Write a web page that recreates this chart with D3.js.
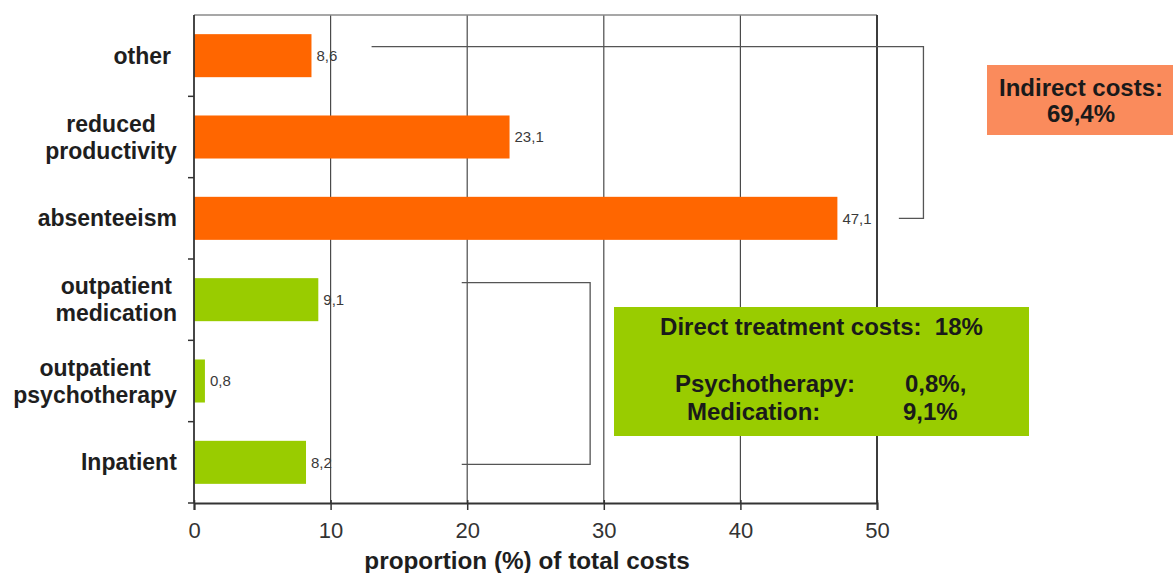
<!DOCTYPE html>
<html>
<head>
<meta charset="utf-8">
<script src="https://cdn.jsdelivr.net/npm/d3@7"></script>
<style>
  html, body { margin: 0; padding: 0; background: #fff; }
  svg { display: block; font-family: "Liberation Sans", Arial, sans-serif; }
</style>
</head>
<body>
<svg id="chart" width="1173" height="573"></svg>
<script>
// ---- data ----
const categories = ["other", "reduced productivity", "absenteeism", "outpatient medication", "outpatient psychotherapy", "Inpatient"];
const values = [8.6, 23.1, 47.1, 9.1, 0.8, 8.2];
const valueLabels = ["8,6", "23,1", "47,1", "9,1", "0,8", "8,2"];
const groups = ["indirect", "indirect", "indirect", "direct", "direct", "direct"];
const xTicks = [0, 10, 20, 30, 40, 50];
const axisTitle = "proportion (%) of total costs";
const indirectLines = ["Indirect costs:", "69,4%"];
const directTitle = "Direct treatment costs:  18%";
const directRows = [["Psychotherapy:", "0,8%,"], ["Medication:", "9,1%"]];

const colors = { indirect: "#FF6600", direct: "#99CC00" };

const svg = d3.select("#chart");
const margin = { left: 194, right: 877, top: 15, bottom: 503 };

const x = d3.scaleLinear().domain([0, 50]).range([margin.left, margin.right]);
const y = d3.scaleBand().domain(categories).range([margin.top, margin.bottom])
  .paddingInner(0.471).paddingOuter(0.2355);

// grid lines (vertical)
svg.append("g").selectAll("line").data(xTicks.filter(t => t > 0))
  .join("line")
  .attr("x1", d => x(d)).attr("x2", d => x(d))
  .attr("y1", margin.top).attr("y2", margin.bottom)
  .attr("stroke", "#4a4a4a").attr("stroke-width", 1.2);

// top border
svg.append("line")
  .attr("x1", x(0)).attr("x2", x(50)).attr("y1", margin.top).attr("y2", margin.top)
  .attr("stroke", "#8a8a8a").attr("stroke-width", 1.5);

// bars
const rows = categories.map((c, i) => ({ c, v: values[i], lab: valueLabels[i], g: groups[i] }));
svg.append("g").selectAll("rect").data(rows).join("rect")
  .attr("x", x(0)).attr("y", d => y(d.c))
  .attr("width", d => x(d.v) - x(0)).attr("height", y.bandwidth())
  .attr("fill", d => colors[d.g]);

// value labels
svg.append("g").selectAll("text").data(rows).join("text")
  .attr("x", d => x(d.v) + 5).attr("y", d => y(d.c) + y.bandwidth() / 2)
  .attr("dy", "0.35em")
  .attr("font-size", 15).attr("fill", "#3a3a3a")
  .text(d => d.lab);

// x axis
const xAxis = svg.append("g").attr("transform", `translate(0,${margin.bottom})`)
  .call(d3.axisBottom(x).tickValues(xTicks).tickSize(7).tickPadding(12).tickFormat(d3.format("d")));
xAxis.select(".domain").attr("stroke", "#333").attr("stroke-width", 2);
xAxis.selectAll(".tick line").attr("stroke", "#333").attr("stroke-width", 1.5).attr("y1", -3);
xAxis.selectAll(".tick text").attr("font-size", 22).attr("fill", "#333")
  .attr("font-family", "Liberation Sans, Arial, sans-serif");

// y axis (ticks at band boundaries)
const boundaries = categories.map(c => y(c) - y.step() * y.paddingInner() / 2).slice(1)
  .concat([margin.bottom]);
svg.append("line")
  .attr("x1", x(0)).attr("x2", x(0)).attr("y1", margin.top).attr("y2", margin.bottom)
  .attr("stroke", "#333").attr("stroke-width", 1.8);
svg.append("g").selectAll("line").data(boundaries).join("line")
  .attr("x1", x(0) - 6).attr("x2", x(0)).attr("y1", d => d).attr("y2", d => d)
  .attr("stroke", "#333").attr("stroke-width", 1.5);

// right border
svg.append("line")
  .attr("x1", x(50)).attr("x2", x(50)).attr("y1", margin.top).attr("y2", margin.bottom)
  .attr("stroke", "#333").attr("stroke-width", 1.8);

// category labels (multi-line, centered block, right edge near axis)
const labFs = 23, labLh = 27, labRight = x(0) - 17;
categories.forEach(c => {
  const lines = (c === "other" || c === "absenteeism" || c === "Inpatient") ? [c] : c.split(" ");
  const cy = y(c) + y.bandwidth() / 2;
  const t = svg.append("text").attr("font-size", labFs).attr("font-weight", "bold")
    .attr("fill", "#1e1e1e").attr("text-anchor", "middle");
  lines.forEach((l, i) => {
    t.append("tspan").attr("x", 0)
      .attr("y", cy + (i - (lines.length - 1) / 2) * labLh + 0.35 * labFs).text(l);
  });
  const w = t.node().getBBox().width;
  const right = c === "other" ? labRight - 6 : labRight;
  t.selectAll("tspan").attr("x", right - w / 2);
});

// axis title
svg.append("text")
  .attr("x", 527).attr("y", 569)
  .attr("text-anchor", "middle").attr("font-size", 24.3).attr("font-weight", "bold")
  .attr("fill", "#1e1e1e").text(axisTitle);

// brackets
const yc = c => y(c) + y.bandwidth() / 2;
svg.append("path")
  .attr("d", `M${x(13)},${yc("other") - 9}H${x(53.4)}V${yc("absenteeism")}H${x(51.6)}`)
  .attr("fill", "none").attr("stroke", "#555").attr("stroke-width", 1.3);
svg.append("path")
  .attr("d", `M${x(19.6)},${yc("outpatient medication") - 17}H${x(29.0)}V${yc("Inpatient") + 2}H${x(19.6)}`)
  .attr("fill", "none").attr("stroke", "#555").attr("stroke-width", 1.3);

// indirect costs box
const ib = { x: 987, y: 65, w: 186, h: 70 };
svg.append("rect").attr("x", ib.x).attr("y", ib.y).attr("width", ib.w).attr("height", ib.h)
  .attr("fill", "#FA8B5C");
const it = svg.append("text").attr("text-anchor", "middle").attr("font-size", 24)
  .attr("font-weight", "bold").attr("fill", "#1a1a1a");
indirectLines.forEach((l, i) => {
  it.append("tspan").attr("x", 1081).attr("y", 96 + i * 26).text(l);
});

// direct costs box
const db = { x: 614, y: 307, w: 415, h: 129 };
svg.append("rect").attr("x", db.x).attr("y", db.y).attr("width", db.w).attr("height", db.h)
  .attr("fill", "#99CC00");
svg.append("text").attr("x", db.x + db.w / 2).attr("y", 335)
  .attr("text-anchor", "middle").attr("font-size", 24).attr("font-weight", "bold")
  .attr("fill", "#1a1a1a").style("white-space", "pre").text(directTitle);
const rowX = [[675, 905], [687, 903]];
directRows.forEach((r, i) => {
  r.forEach((s, j) => {
    svg.append("text").attr("x", rowX[i][j]).attr("y", 392 + i * 28)
      .attr("font-size", 24).attr("font-weight", "bold").attr("fill", "#1a1a1a").text(s);
  });
});
</script>
</body>
</html>
